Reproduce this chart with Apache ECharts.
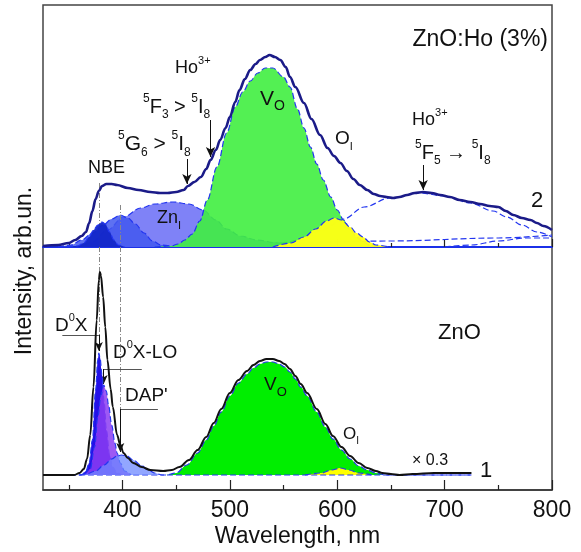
<!DOCTYPE html>
<html>
<head>
<meta charset="utf-8">
<script src="https://cdn.jsdelivr.net/npm/echarts@6/dist/echarts.min.js"></script>
<style>
  html, body { margin: 0; padding: 0; background: #fff; }
  #chart { width: 581px; height: 552px; }
</style>
</head>
<body>
<div id="chart"></div>
<script>
// wavelength axis (nm)
const wlMin = 326
const wlMax = 800
const majorTicks = [400, 500, 600, 700, 800]
const minorTicks = [350, 450, 550, 650, 750]

// curve 2 : ZnO:Ho (3%)  [nm, intensity arb.un.]
const hoSpectrum = [[326,1],[340,2],[350,4],[356,7],[362,11],[366,15],[369,24],[372,36],[375,48],[378,56],[381,61],[385,63],[390,63],[395,62],[405,59],[415,57],[426,55],[435,54],[442,54],[450,55],[457,57],[461,61],[467,65],[473,70],[478,78],[482,87],[487,97],[491,107],[496,119],[500,130],[505,145],[509,157],[514,168],[519,177],[524,183],[528,187],[533,190],[537,192],[542,190],[547,187],[552,180],[556,170],[561,160],[569,144],[576,128],[584,112],[591,99],[597,91],[603,84],[609,76],[615,68],[621,62],[628,57],[634,53],[640,51],[646,50],[652,49],[658,50],[665,52],[672,54],[680,55],[688,54],[696,52],[705,50],[714,47],[724,45],[733,43],[742,41],[750,40],[757,36],[764,32],[772,29],[780,27],[786,24],[792,21],[800,17]]
// gaussian components of curve 2
const hoNbe1 = [[340,0],[358,1],[364,4],[369,10],[373,17],[377,22],[381,25],[384,23],[388,15],[392,7],[396,2],[402,0]]
const hoNbe2 = [[340,0],[352,2],[362,7],[372,14],[382,22],[390,28],[398,32],[405,29],[412,23],[420,14],[428,6],[436,2],[448,0]]
const hoZni = [[340,0],[360,1],[372,5],[386,17],[401,30],[417,39],[430,43],[447,45],[462,43],[475,37],[487,27],[497,18],[510,11],[525,7],[545,4],[570,2],[600,1],[640,0]]
const hoVo = [[430,0],[445,1],[452,3],[458,7],[465,13],[472,26],[479,47],[488,80],[497,114],[505,140],[512,155],[519,166],[526,174],[533,179],[540,179],[550,170],[556,160],[563,138],[569,119],[575,100],[581,83],[587,67],[594,50],[600,37],[606,27],[612,18],[618,10],[624,5],[632,1],[645,0]]
const hoOi = [[540,0],[557,4],[569,10],[580,18],[590,26],[597,29],[604,27],[612,20],[618,14],[624,10],[630,5],[636,2],[648,0]]
const hoF5 = [[540,0],[566,7],[586,17],[606,28],[625,40],[649,49],[677,54],[700,51],[724,44],[745,36],[758,30],[772,22],[786,15],[800,10]]
const hoTail1 = [[430,0],[480,2],[550,4],[650,6],[750,9],[800,12]]
const hoTail2 = [[700,0],[725,2],[750,6],[775,9],[800,9]]

// curve 1 : ZnO
const znoSpectrum = [[326,0],[340,0],[355,0],[360,2],[364,6],[367,16],[370,40],[373,88],[376,155],[378,195],[379,203],[380,199],[382,178],[384,148],[386,115],[389,86],[391,68],[395,40],[398,30],[401,22],[405,17],[410,12],[418,8],[426,5],[438,4],[446,5],[453,8],[462,15],[470,25],[478,38],[485,52],[492,66],[500,82],[508,95],[516,104],[522,110],[528,114],[534,116],[540,116],[546,114],[551,111],[556,106],[561,99],[566,91],[572,82],[581,66],[589,51],[596,39],[604,28],[612,19],[620,12],[628,7],[636,4],[642,2],[650,1],[658,0],[670,1],[690,2],[710,2],[725,2]]
const znoD0x = [[326,0],[362,0],[366,4],[369,12],[372,35],[375,85],[377,115],[378,122],[379,118],[381,100],[383,72],[385,45],[388,20],[391,8],[395,2],[400,0]]
const znoD0xLo = [[365,0],[370,6],[374,28],[377,58],[380,80],[382.5,90],[385,84],[387,70],[390,50],[393,32],[395,22],[398,12],[402,4],[408,0]]
const znoDap = [[360,0],[366,1],[375,4],[383,10],[390,16],[395,19],[399,20],[404,19],[410,15],[417,10],[424,5],[430,2],[437,0],[725,0]]
const znoVo = [[326,0],[440,0],[450,2],[460,10],[470,22],[478,35],[485,49],[492,63],[500,79],[508,92],[516,101],[522,107],[528,111],[534,113],[540,113],[546,111],[551,108],[556,103],[561,96],[566,88],[572,79],[581,63],[589,48],[596,36],[604,25],[612,16],[620,9],[628,5],[636,2],[645,0],[725,0]]
const znoOi = [[570,0],[585,2],[595,5],[603,7],[611,5],[620,2],[632,0]]

const FONT = 'Liberation Sans, Arial, sans-serif'
const chart = echarts.init(document.getElementById('chart'))

const comp = (data, fill, opacity, bottom, z) => ({
  type: 'line',
  data,
  xAxisIndex: bottom ? 2 : 0,
  yAxisIndex: bottom ? 1 : 0,
  symbol: 'none',
  smooth: 0.35,
  smoothMonotone: 'x',
  z,
  emphasis: { disabled: true },
  lineStyle: { color: '#2336f0', width: 1.2, type: [6, 3] },
  areaStyle: fill ? { color: fill, opacity } : undefined
})

const seg = (a, b) => [{ coord: a }, { coord: b }]

const xAxisBase = (grid, ticks, len, line, labels) => ({
  type: 'value',
  gridIndex: grid,
  min: wlMin,
  max: wlMax,
  position: 'bottom',
  offset: 0,
  splitLine: { show: false },
  axisLine: line ? { show: true, onZero: false, lineStyle: line } : { show: false, onZero: false },
  axisTick: { show: true, inside: true, length: len, customValues: ticks, lineStyle: { color: '#222', width: 1.2 } },
  axisLabel: labels ? {
    show: true, customValues: majorTicks, fontSize: 23, fontFamily: FONT, color: '#111', margin: 9
  } : { show: false }
})

const richStyle = (n, s) => ({
  n: { fontSize: n, lineHeight: n + 8, fontFamily: FONT, fill: '#111' },
  p: { fontSize: s, lineHeight: s + 2, verticalAlign: 'top', fontFamily: FONT, fill: '#111' },
  b: { fontSize: s, lineHeight: s + 2, verticalAlign: 'bottom', fontFamily: FONT, fill: '#111' }
})

// [x, y, text, size, subSize, align]
const labels = [
  [548, 40, '{n|ZnO:Ho (3%)}', 23, 12, 'right'],
  [175, 68, '{n|Ho}{p|3+}', 18, 11, 'left'],
  [143, 107, '{p|5}{n|F}{b|3}{n| > }{p|5}{n|I}{b|8}', 20, 12, 'left'],
  [118, 144, '{p|5}{n|G}{b|6}{n| > }{p|5}{n|I}{b|8}', 21, 12, 'left'],
  [88, 168, '{n|NBE}', 18, 11, 'left'],
  [260, 99, '{n|V}{b|O}', 21, 14, 'left'],
  [157, 218, '{n|Zn}{b|I}', 18, 11, 'left'],
  [335, 139, '{n|O}{b|I}', 19, 11, 'left'],
  [412, 120, '{n|Ho}{p|3+}', 18, 11, 'left'],
  [415, 153, '{p|5}{n|F}{b|5}{n| \u2192 }{p|5}{n|I}{b|8}', 20, 12, 'left'],
  [537, 201, '{n|2}', 22, 12, 'center'],
  [438, 333, '{n|ZnO}', 22, 12, 'left'],
  [55, 326, '{n|D}{p|0}{n|X}', 19, 11, 'left'],
  [113, 353, '{n|D}{p|0}{n|X-LO}', 19, 11, 'left'],
  [125, 396, "{n|DAP'}", 19, 11, 'left'],
  [264, 385, '{n|V}{b|O}', 19, 13, 'left'],
  [343, 434, '{n|O}{b|I}', 17, 10, 'left'],
  [412, 461, '{n|\u00d7 0.3}', 16, 10, 'left'],
  [486, 471, '{n|1}', 22, 12, 'center']
]

const option = {
  animation: false,
  backgroundColor: '#fff',
  grid: [
    { left: 43, right: 29, top: 5, height: 242, show: true, borderColor: '#444', borderWidth: 1.5 },
    { left: 43, right: 29, top: 247, height: 243, show: true, borderColor: '#444', borderWidth: 1.5 }
  ],
  xAxis: [
    xAxisBase(0, majorTicks, 8, { color: '#1b30e8', width: 2 }, false),
    xAxisBase(0, minorTicks, 4, null, false),
    Object.assign(xAxisBase(1, majorTicks, 10, { color: '#333', width: 1.5 }, true), {
      name: 'Wavelength, nm',
      nameLocation: 'middle',
      nameGap: 35,
      nameTextStyle: { fontSize: 23, fontFamily: FONT, color: '#111' }
    }),
    xAxisBase(1, minorTicks, 5, null, false)
  ],
  yAxis: [
    { type: 'value', gridIndex: 0, min: 0, max: 242, show: false },
    { type: 'value', gridIndex: 1, min: -15, max: 228, show: false }
  ],
  series: [
    // top panel
    comp(hoTail1, null, 0, false, 2),
    comp(hoTail2, null, 0, false, 2),
    comp(hoF5, null, 0, false, 2),
    comp(hoZni, '#7f82f7', 1, false, 3),
    comp(hoNbe2, '#4258ee', 0.85, false, 4),
    Object.assign(comp(hoNbe1, '#1226c8', 0.95, false, 5), {
      markLine: {
        silent: true, symbol: 'none', label: { show: false },
        lineStyle: { color: '#888', width: 1, type: [5, 2, 1, 2] },
        data: [seg([378.5, 64], [378.5, 0]), seg([398, 42], [398, 0])]
      }
    }),
    comp(hoVo, '#40ee40', 0.9, false, 6),
    comp(hoOi, '#ffff14', 0.95, false, 7),
    {
      type: 'line', data: hoSpectrum, xAxisIndex: 0, yAxisIndex: 0, symbol: 'none',
      smooth: 0.35, smoothMonotone: 'x', z: 10, emphasis: { disabled: true },
      lineStyle: { color: '#1b1b88', width: 2.6 },
      markLine: {
        silent: true, symbol: ['none', 'arrow'], symbolSize: [7, 10], label: { show: false },
        lineStyle: { color: '#111', width: 1, type: 'solid' },
        data: [seg([460, 88], [460, 63]), seg([482, 127], [482, 90]), seg([680, 82], [680, 57])]
      }
    },
    // bottom panel
    comp(znoVo, '#00ee00', 1, true, 3),
    comp(znoOi, '#ffff00', 1, true, 4),
    Object.assign(comp(znoD0x, '#2410e8', 1, true, 5), {
      markLine: {
        silent: true, symbol: 'none', label: { show: false },
        lineStyle: { color: '#888', width: 1, type: [5, 2, 1, 2] },
        data: [seg([378.5, 228], [378.5, 140]), seg([398, 228], [398, 66])]
      }
    }),
    comp(znoD0xLo, '#8c3cf2', 0.85, true, 6),
    Object.assign(comp(znoDap, '#6e88ff', 0.75, true, 7), {
      markLine: {
        silent: true, symbol: 'none', label: { show: false },
        lineStyle: { color: '#555', width: 1, type: 'solid' },
        data: [seg([344, 140], [378, 140]), seg([382.5, 106], [418, 106]), seg([398, 66], [433, 66])]
      }
    }),
    {
      type: 'line', data: znoSpectrum, xAxisIndex: 2, yAxisIndex: 1, symbol: 'none',
      smooth: 0.35, smoothMonotone: 'x', z: 10, emphasis: { disabled: true },
      lineStyle: { color: '#111', width: 2 },
      markLine: {
        silent: true, symbol: ['none', 'arrow'], symbolSize: [6, 9], label: { show: false },
        lineStyle: { color: '#111', width: 1, type: 'solid' },
        data: [seg([378, 140], [378, 124]), seg([382.5, 106], [382.5, 91]), seg([398, 66], [398, 23])]
      }
    }
  ],
  graphic: [
    {
      type: 'text', x: 25, y: 271, rotation: Math.PI / 2, z: 100,
      style: { text: 'Intensity, arb.un.', fontSize: 23, fontFamily: FONT, fill: '#111', align: 'center', verticalAlign: 'middle' }
    }
  ].concat(labels.map(l => ({
    type: 'text', x: l[0], y: l[1], z: 100,
    style: { text: l[2], rich: richStyle(l[3], l[4]), align: l[5], verticalAlign: 'middle' }
  })))
}

chart.setOption(option)
</script>
</body>
</html>
